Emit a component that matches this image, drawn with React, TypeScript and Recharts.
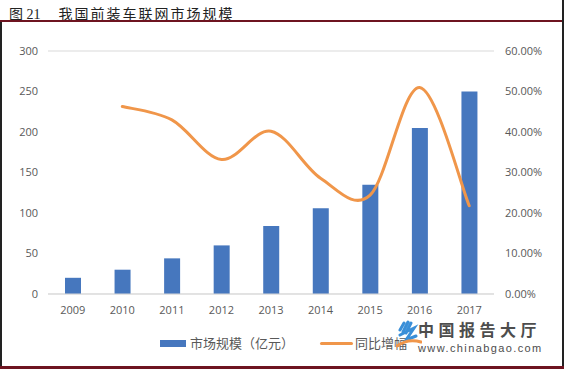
import React from "react";
import { ComposedChart, Bar, Line, XAxis, YAxis, CartesianGrid, Legend } from "recharts";

const years = ["2009", "2010", "2011", "2012", "2013", "2014", "2015", "2016", "2017"];
const marketSize = [20, 30, 44, 60, 84, 106, 135, 205, 250];
const growth = [null, 46.3, 43.0, 33.2, 40.2, 28.6, 24.4, 51.0, 21.8];
const leftTicks = [0, 50, 100, 150, 200, 250, 300];
const rightTicks = [0, 10, 20, 30, 40, 50, 60];

const data = years.map((y, i) => ({ year: y, size: marketSize[i], growth: growth[i] }));

const BLUE = "#4677BE";
const ORANGE = "#F0964A";
const TICK_COLOR = "#595959";

// Excel-like smoothed line (Catmull-Rom based bezier)
function excelCurve(context: any) {
  let pts: number[][] = [];
  return {
    areaStart() {},
    areaEnd() {},
    lineStart() {
      pts = [];
    },
    point(x: number, y: number) {
      pts.push([+x, +y]);
    },
    lineEnd() {
      const n = pts.length;
      if (!n) return;
      context.moveTo(pts[0][0], pts[0][1]);
      if (n === 1) return;
      for (let i = 0; i < n - 1; i++) {
        const p0 = pts[i - 1] || pts[i];
        const p1 = pts[i];
        const p2 = pts[i + 1];
        const p3 = pts[i + 2] || p2;
        const c1x = p1[0] + (p2[0] - p0[0]) / 6;
        const c1y = p1[1] + (p2[1] - p0[1]) / 6;
        const c2x = p2[0] - (p3[0] - p1[0]) / 6;
        const c2y = p2[1] - (p3[1] - p1[1]) / 6;
        context.bezierCurveTo(c1x, c1y, c2x, c2y, p2[0], p2[1]);
      }
    },
  };
}

const cjk = "'Noto Sans CJK SC', 'Noto Sans', sans-serif";

function LegendContent() {
  return (
    <div style={{ position: "relative", height: 20, width: 410, fontFamily: cjk, fontSize: 13, color: TICK_COLOR }}>
      <div style={{ position: "absolute", left: 160, top: 7, width: 26, height: 7, background: BLUE }} />
      <div style={{ position: "absolute", left: 190, top: 0, lineHeight: "20px", whiteSpace: "nowrap" }}>市场规模（亿元）</div>
      <div style={{ position: "absolute", left: 320, top: 9, width: 33, height: 3, background: ORANGE, borderRadius: 2 }} />
      <div style={{ position: "absolute", left: 355, top: 0, lineHeight: "20px", whiteSpace: "nowrap" }}>同比增幅</div>
    </div>
  );
}

export default function App() {
  return (
    <div style={{ position: "absolute", left: 0, top: 0, width: 564, height: 369, background: "#fff", overflow: "hidden" }}>
      {/* title */}
      <div
        style={{
          position: "absolute",
          left: 9,
          top: 3,
          fontSize: 14,
          color: "#222",
          whiteSpace: "nowrap",
          fontFamily: "'Liberation Serif', 'Noto Sans CJK SC', serif",
        }}
      >
        <span>图 21</span>
        <span style={{ marginLeft: 18, letterSpacing: 2, fontFamily: "'Noto Sans CJK SC', serif" }}>我国前装车联网市场规模</span>
      </div>
      <div style={{ position: "absolute", left: 0, top: 20, width: 564, height: 2, background: "#6E1420" }} />
      <div style={{ position: "absolute", left: 0, top: 22, width: 2, height: 345, background: "#222" }} />
      <div style={{ position: "absolute", left: 562, top: 0, width: 2, height: 367, background: "#222" }} />
      <div style={{ position: "absolute", left: 0, top: 366, width: 564, height: 3, background: "#6E1420" }} />

      <div style={{ position: "absolute", left: 0, top: 0 }}>
        <ComposedChart
          width={564}
          height={369}
          data={data}
          margin={{ top: 51, right: 5, left: 0, bottom: 30 }}
          barCategoryGap={0}
        >
          <CartesianGrid vertical={false} stroke="#D9D9D9" strokeWidth={1} />
          <XAxis
            dataKey="year"
            height={25}
            tickLine={false}
            axisLine={{ stroke: "#D9D9D9" }}
            tick={{ fill: TICK_COLOR, fontSize: 11, fontFamily: "'Open Sans', sans-serif" }}
            tickMargin={6}
            interval={0}
          />
          <YAxis
            yAxisId="left"
            orientation="left"
            width={48}
            domain={[0, 300]}
            ticks={leftTicks}
            tickLine={false}
            axisLine={false}
            tickMargin={4}
            tick={{ fill: TICK_COLOR, fontSize: 11, fontFamily: "'Open Sans', sans-serif" }}
          />
          <YAxis
            yAxisId="right"
            orientation="right"
            width={65}
            domain={[0, 60]}
            ticks={rightTicks}
            tickLine={false}
            axisLine={false}
            tickMargin={5}
            tickFormatter={(v: number) => v.toFixed(2) + "%"}
            tick={{ fill: TICK_COLOR, fontSize: 11, fontFamily: "'Open Sans', sans-serif", textAnchor: "start" }}
          />
          <Bar yAxisId="left" dataKey="size" fill={BLUE} barSize={16} isAnimationActive={false} />
          <Line
            yAxisId="right"
            dataKey="growth"
            type={excelCurve as any}
            stroke={ORANGE}
            strokeWidth={3}
            dot={false}
            activeDot={false}
            connectNulls={false}
            strokeLinecap="round"
            isAnimationActive={false}
          />
          <Legend verticalAlign="bottom" align="left" content={() => <LegendContent />} wrapperStyle={{ left: 0, bottom: 16, height: 20, width: 410 }} />
        </ComposedChart>
      </div>

      {/* watermark */}
      <svg style={{ position: "absolute", left: 396, top: 320 }} width={26} height={30}>
        <path d="M8 3 L4 10 M12 2 L7 12 M15 3 L10 13 M4 15 L18 8 L10 20 L20 16" stroke="#3A8FD8" strokeWidth={3} fill="none" strokeLinecap="round" />
        <path d="M1 26 Q12 18 25 22" stroke="#F0964A" strokeWidth={3} fill="none" strokeLinecap="round" />
      </svg>
      <div
        style={{
          position: "absolute",
          left: 418,
          top: 321,
          fontSize: 16,
          fontWeight: 700,
          color: "#4d4d4d",
          fontFamily: cjk,
          letterSpacing: 4.5,
          whiteSpace: "nowrap",
          lineHeight: "16px",
        }}
      >
        中国报告大厅
      </div>
      <div
        style={{
          position: "absolute",
          left: 418,
          top: 343,
          fontSize: 11,
          color: "#4d4d4d",
          fontFamily: "'Liberation Sans', sans-serif",
          letterSpacing: 1.4,
          whiteSpace: "nowrap",
          lineHeight: "11px",
        }}
      >
        www.chinabgao.com
      </div>
    </div>
  );
}
